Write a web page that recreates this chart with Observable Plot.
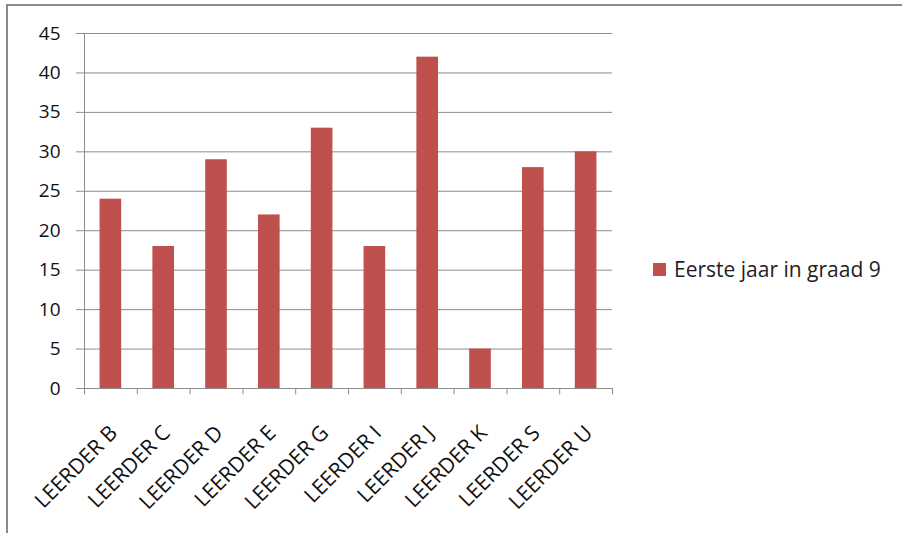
<!DOCTYPE html>
<html>
<head>
<meta charset="utf-8">
<script src="https://cdn.jsdelivr.net/npm/d3@7"></script>
<script src="https://cdn.jsdelivr.net/npm/@observablehq/plot@0.6"></script>
<style>
  body { margin: 0; background: #fff; font-family: "Open Sans", sans-serif; }
  #wrap { position: relative; width: 902px; height: 533px; overflow: hidden; }
  #frame { position: absolute; left: 6px; top: 4px; width: 900px; height: 540px;
           border-top: 2px solid #8a8a8a; border-left: 2px solid #8a8a8a; pointer-events: none; }
  #chart { position: absolute; left: 0; top: 0; }
  #legend { position: absolute; left: 653px; top: 255px; display: flex; align-items: center;
            font-size: 21px; color: #222; white-space: nowrap; }
  #legend .sw { width: 13px; height: 13px; background: #C0504D; margin-right: 8px; }
</style>
</head>
<body>
<div id="wrap">
  <div id="chart"></div>
  <div id="frame"></div>
  <div id="legend"><span class="sw"></span><span id="legtext"></span></div>
</div>
<script>
const categories = ["LEERDER B", "LEERDER C", "LEERDER D", "LEERDER E", "LEERDER G", "LEERDER I", "LEERDER J", "LEERDER K", "LEERDER S", "LEERDER U"];
const values = [24, 18, 29, 22, 33, 18, 42, 5, 28, 30];
const seriesName = "Eerste jaar in graad 9";
const yTicks = [0, 5, 10, 15, 20, 25, 30, 35, 40, 45];

const data = categories.map((c, i) => ({name: c, value: values[i]}));
const gridColor = "#8c8c8c";
const half = 26.4;

document.getElementById("legtext").textContent = seriesName;

const chart = Plot.plot({
  width: 902,
  height: 533,
  marginLeft: 84,
  marginRight: 290,
  marginTop: 33,
  marginBottom: 145,
  style: {fontFamily: "Open Sans, sans-serif", color: "#111", background: "transparent"},
  x: {domain: categories, paddingInner: 0.59, paddingOuter: 0.295, round: false, axis: null},
  y: {domain: [0, 45], axis: null},
  marks: [
    Plot.gridY(yTicks, {stroke: gridColor, strokeOpacity: 1, strokeWidth: 1}),
    Plot.axisY(yTicks, {tickSize: 8, tickPadding: 16, stroke: gridColor, fontSize: 19, fill: "#111", label: null}),
    Plot.ruleX([categories[0]], {y1: 0, y2: 45, dx: -half, stroke: gridColor}),
    Plot.barY(data, {x: "name", y: "value", fill: "#C0504D"}),
    Plot.ruleY([0], {stroke: gridColor}),
    Plot.ruleX(categories, {y1: 0, y2: -0.8, dx: -half, stroke: gridColor}),
    Plot.ruleX([categories[categories.length - 1]], {y1: 0, y2: -0.8, dx: half, stroke: gridColor}),
    Plot.text(categories, {x: d => d, y: 0, dy: 41, dx: 3, rotate: -45, textAnchor: "end", lineAnchor: "middle", fontSize: 21, fill: "#111"})
  ]
});
document.getElementById("chart").append(chart);
</script>
</body>
</html>
